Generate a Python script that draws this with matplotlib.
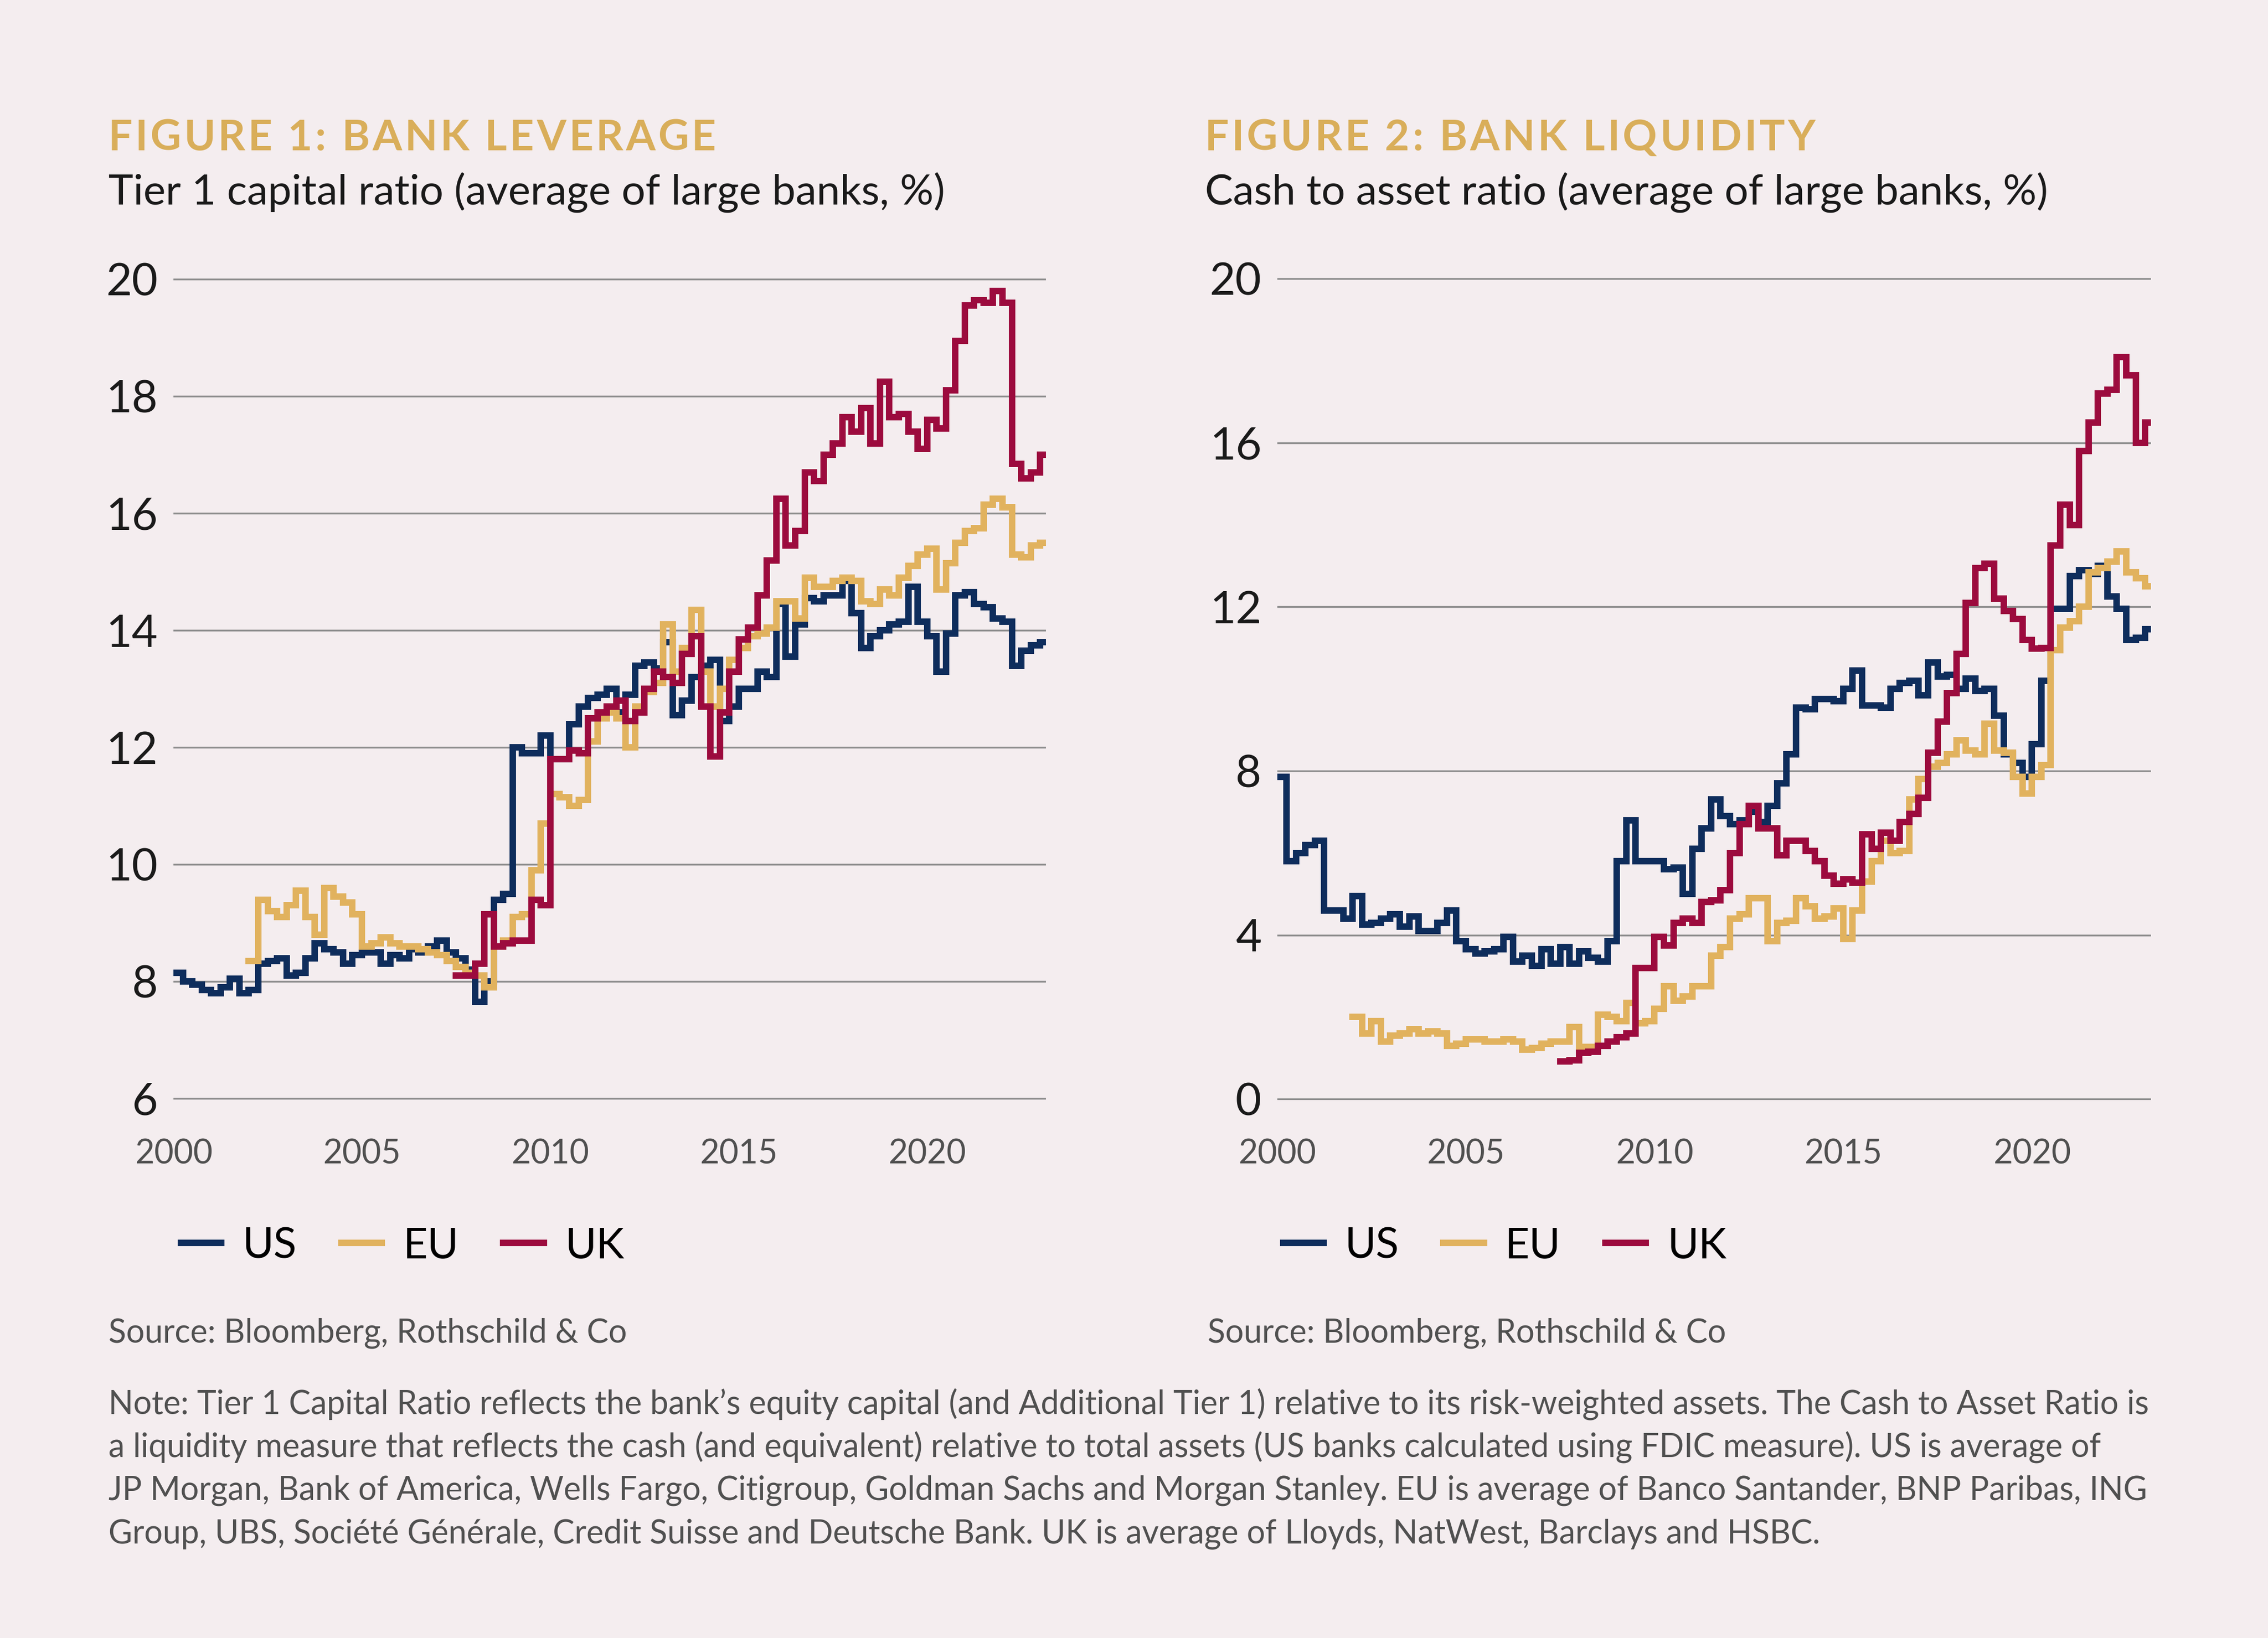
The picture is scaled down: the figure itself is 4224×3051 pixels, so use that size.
import numpy as np
import matplotlib.pyplot as plt

plt.rcParams['font.family'] = ['Lato', 'DejaVu Sans']

BG = '#F4EDEF'
C_US = '#0E2D5C'
C_EU = '#E1B25E'
C_UK = '#9C0B3E'
C_GOLD = '#D9AE5A'
C_GRID = '#8E8E8E'
C_TEXT = '#1A1A1A'
C_SOFT = '#505050'

# ---- Figure 1: Tier 1 capital ratio, quarterly (%), first quarter given by *_start
lev_us_start = 2000.0
lev_us = [8.15, 8.0, 7.95, 7.85, 7.8, 7.9, 8.05, 7.8, 7.85, 8.3, 8.35, 8.4,
          8.1, 8.15, 8.4, 8.65, 8.55, 8.5, 8.3, 8.45, 8.5, 8.5, 8.3, 8.45,
          8.4, 8.55, 8.5, 8.6, 8.7, 8.5, 8.4, 8.2, 7.65, 8.0, 9.4, 9.5,
          12.0, 11.9, 11.9, 12.2, 11.8, 11.8, 12.4, 12.7, 12.85, 12.9, 13.0, 12.6,
          12.9, 13.4, 13.45, 13.35, 13.8, 12.55, 12.8, 13.2, 13.4, 13.5, 12.45, 12.7,
          13.0, 13.0, 13.3, 13.2, 14.45, 13.55, 14.1, 14.55, 14.5, 14.6, 14.6, 14.85,
          14.3, 13.7, 13.9, 14.0, 14.1, 14.15, 14.75, 14.15, 13.9, 13.3, 13.95, 14.6,
          14.65, 14.45, 14.4, 14.2, 14.15, 13.4, 13.65, 13.75, 13.8, 13.85]
lev_eu_start = 2002.0
lev_eu = [8.35, 9.4, 9.2, 9.1, 9.3, 9.55, 9.1, 8.8, 9.6, 9.45, 9.35, 9.15,
          8.6, 8.65, 8.75, 8.65, 8.6, 8.6, 8.55, 8.5, 8.45, 8.35, 8.25, 8.15,
          8.1, 7.9, 8.6, 8.7, 9.1, 9.15, 9.9, 10.7, 11.2, 11.15, 11.0, 11.1,
          12.1, 12.5, 12.6, 12.5, 12.0, 12.7, 12.95, 13.1, 14.1, 13.3, 13.7, 14.35,
          13.3, 12.7, 13.0, 13.5, 13.7, 13.9, 13.95, 14.05, 14.5, 14.5, 14.2, 14.9,
          14.75, 14.75, 14.85, 14.9, 14.85, 14.5, 14.45, 14.7, 14.6, 14.9, 15.1, 15.3,
          15.4, 14.7, 15.15, 15.5, 15.7, 15.75, 16.15, 16.25, 16.1, 15.3, 15.25, 15.45,
          15.5, 15.5]
lev_uk_start = 2007.5
lev_uk = [8.1, 8.1, 8.3, 9.15, 8.6, 8.65, 8.7, 8.7, 9.4, 9.3,
          11.8, 11.8, 11.95, 11.9, 12.5, 12.6, 12.7, 12.8, 12.45, 12.6, 13.0, 13.3,
          13.2, 13.1, 13.6, 13.9, 12.7, 11.85, 12.6, 13.3, 13.85, 14.05, 14.6, 15.2,
          16.25, 15.45, 15.7, 16.7, 16.55, 17.0, 17.2, 17.65, 17.4, 17.8, 17.2, 18.25,
          17.65, 17.7, 17.4, 17.1, 17.6, 17.45, 18.1, 18.95, 19.55, 19.65, 19.6, 19.8,
          19.6, 16.85, 16.6, 16.7, 17.0, 17.0]

# ---- Figure 2: cash to asset ratio, quarterly (%)
liq_us_start = 2000.0
liq_us = [7.85, 5.8, 6.0, 6.2, 6.3, 4.6, 4.6, 4.4, 4.95, 4.25, 4.3, 4.4,
          4.5, 4.2, 4.45, 4.1, 4.1, 4.3, 4.6, 3.85, 3.65, 3.55, 3.6, 3.65,
          3.95, 3.35, 3.5, 3.25, 3.65, 3.3, 3.7, 3.3, 3.6, 3.45, 3.35, 3.85,
          5.8, 6.8, 5.8, 5.8, 5.8, 5.6, 5.65, 5.0, 6.1, 6.6, 7.3, 6.9,
          6.7, 6.8, 7.0, 6.75, 7.15, 7.7, 8.4, 9.55, 9.5, 9.75, 9.75, 9.7,
          10.0, 10.45, 9.6, 9.6, 9.55, 10.0, 10.15, 10.2, 9.85, 10.65, 10.3, 10.35,
          10.0, 10.25, 9.95, 10.0, 9.35, 8.4, 8.2, 7.85, 8.65, 10.2, 11.95, 11.95,
          12.75, 12.9, 12.8, 13.0, 12.25, 11.95, 11.2, 11.25, 11.45, 11.45]
liq_eu_start = 2002.0
liq_eu = [2.0, 1.6, 1.9, 1.4, 1.55, 1.6, 1.7, 1.6, 1.65, 1.6, 1.3, 1.35,
          1.45, 1.45, 1.4, 1.4, 1.45, 1.4, 1.2, 1.25, 1.35, 1.4, 1.4, 1.75,
          1.27, 1.27, 2.05, 2.0, 1.9, 2.35, 1.85, 1.9, 2.2, 2.75, 2.4, 2.5,
          2.75, 2.75, 3.5, 3.7, 4.4, 4.5, 4.9, 4.9, 3.85, 4.3, 4.35, 4.9,
          4.7, 4.4, 4.45, 4.65, 3.9, 4.6, 5.3, 5.8, 6.3, 6.0, 6.05, 7.3,
          7.8, 8.1, 8.2, 8.4, 8.75, 8.5, 8.4, 9.15, 8.5, 8.45, 7.85, 7.45,
          7.85, 8.15, 10.95, 11.5, 11.65, 12.0, 12.85, 12.95, 13.1, 13.35, 12.85, 12.7,
          12.5, 12.5]
liq_uk_start = 2007.5
liq_uk = [0.92, 0.95, 1.13, 1.15, 1.3, 1.4, 1.5, 1.6, 3.2, 3.2,
          3.95, 3.75, 4.3, 4.4, 4.3, 4.8, 4.85, 5.1, 6.0, 6.7, 7.15, 6.6,
          6.6, 5.95, 6.3, 6.3, 6.05, 5.8, 5.45, 5.25, 5.35, 5.28, 6.45, 6.1,
          6.5, 6.3, 6.75, 6.95, 7.35, 8.45, 9.2, 9.9, 10.85, 12.1, 12.95, 13.05,
          12.2, 11.9, 11.7, 11.2, 10.98, 11.0, 13.5, 14.5, 14.0, 15.8, 16.5, 17.2,
          17.3, 18.1, 17.65, 16.0, 16.5, 16.5]

year_ticks = [2000, 2005, 2010, 2015, 2020]
lev_yticks = [6, 8, 10, 12, 14, 16, 18, 20]
liq_yticks = [0, 4, 8, 12, 16, 20]

series_names = ['US', 'EU', 'UK']
series_colors = [C_US, C_EU, C_UK]


def qx(start, vals):
    return start + 0.25 * np.arange(len(vals))


def draw_panel(ax, data, yticks):
    ax.set_facecolor(BG)
    for (start, vals), name, col in zip(data, series_names, series_colors):
        ax.plot(qx(start, vals), vals, drawstyle='steps-post', color=col,
                lw=2.9, label=name, solid_joinstyle='miter')
    ax.set_xlim(2000, 2023.15)
    ax.set_ylim(yticks[0] - 0.03, yticks[-1] + 0.03)
    ax.set_yticks(yticks)
    ax.set_xticks(year_ticks)
    ax.grid(axis='y', color=C_GRID, lw=0.8)
    ax.set_axisbelow(True)
    for s in ax.spines.values():
        s.set_visible(False)
    ax.tick_params(axis='y', length=0, pad=7, labelsize=20, labelcolor=C_TEXT)
    ax.tick_params(axis='x', length=0, pad=17, labelsize=15, labelcolor=C_SOFT)


def tracked_text(fig, x, y, s, width, **kw):
    """Letter-spaced text: chars laid out so the run spans `width` (fig fraction)."""
    r = fig.canvas.get_renderer()
    W = fig.bbox.width

    def w_of(t):
        tmp = fig.text(0, 0, t, **kw)
        w = tmp.get_window_extent(r).width / W
        tmp.remove()
        return w

    space = w_of('n n') - w_of('nn')
    widths = [space if ch == ' ' else w_of(ch) for ch in s]
    gap = (width - sum(widths)) / (len(s) - 1)
    cur = x
    for ch, w in zip(s, widths):
        if ch != ' ':
            fig.text(cur, y, ch, ha='left', va='center', **kw)
        cur += w + gap


fig = plt.figure(figsize=(14.08, 10.17), dpi=300, facecolor=BG)

ax1 = fig.add_axes([0.0765, 0.3283, 0.3846, 0.5022])
draw_panel(ax1, [(lev_us_start, lev_us), (lev_eu_start, lev_eu),
                 (lev_uk_start, lev_uk)], lev_yticks)

ax2 = fig.add_axes([0.5631, 0.3283, 0.3852, 0.5022])
draw_panel(ax2, [(liq_us_start, liq_us), (liq_eu_start, liq_eu),
                 (liq_uk_start, liq_uk)], liq_yticks)

# headers
for x0, x1, title, sub in [(0.0478, 0.3157, 'FIGURE 1: BANK LEVERAGE',
                            'Tier 1 capital ratio (average of large banks, %)'),
                           (0.5312, 0.8004, 'FIGURE 2: BANK LIQUIDITY',
                            'Cash to asset ratio (average of large banks, %)')]:
    tracked_text(fig, x0, 0.9155, title, x1 - x0, fontsize=19,
                 fontweight='bold', color=C_GOLD)
    fig.text(x0, 0.8825, sub, fontsize=18.8, color=C_TEXT,
             ha='left', va='center')

# legends
for ax, lx in [(ax1, 0.0797), (ax2, 0.5657)]:
    ax.legend(loc='center left', bbox_to_anchor=(lx, 0.2392),
              bbox_transform=fig.transFigure, ncol=3, frameon=False,
              fontsize=19, handlelength=0.95, handletextpad=0.5,
              columnspacing=1.05, borderpad=0, borderaxespad=0)

# sources
for x0 in [0.0478, 0.5325]:
    fig.text(x0, 0.1862, 'Source: Bloomberg, Rothschild & Co', fontsize=14.6,
             color=C_SOFT, ha='left', va='center')

note_lines = [
    'Note: Tier 1 Capital Ratio reflects the bank\u2019s equity capital (and Additional Tier 1) relative to its risk-weighted assets. The Cash to Asset Ratio is',
    'a liquidity measure that reflects the cash (and equivalent) relative to total assets (US banks calculated using FDIC measure). US is average of',
    'JP Morgan, Bank of America, Wells Fargo, Citigroup, Goldman Sachs and Morgan Stanley. EU is average of Banco Santander, BNP Paribas, ING',
    'Group, UBS, Soci\u00e9t\u00e9 G\u00e9n\u00e9rale, Credit Suisse and Deutsche Bank. UK is average of Lloyds, NatWest, Barclays and HSBC.',
]
for i, line in enumerate(note_lines):
    fig.text(0.0478, 1 - (971 + 30 * i) / 1133, line, fontsize=14.6,
             color=C_SOFT, ha='left', va='center')

fig.savefig('out.png', dpi=300, facecolor=BG)
